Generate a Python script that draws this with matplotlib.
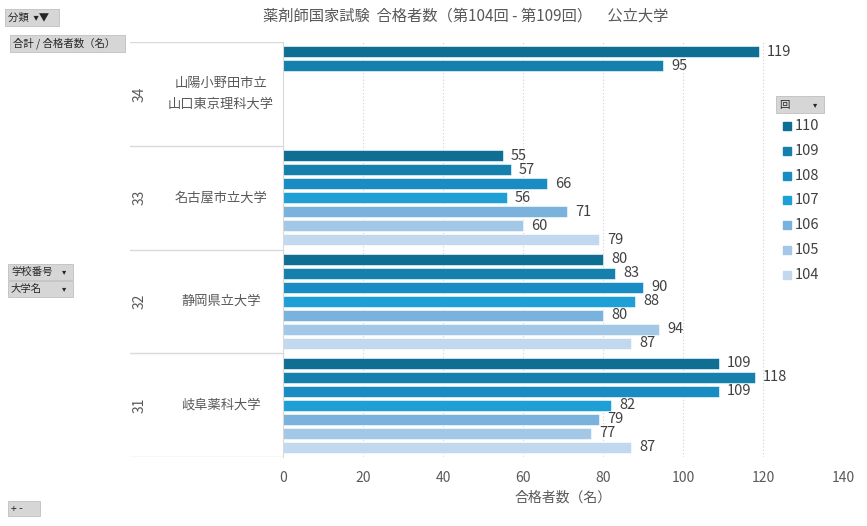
import numpy as np
import matplotlib.pyplot as plt
from matplotlib.patches import FancyBboxPatch

plt.rcParams['font.family'] = ['Noto Sans CJK JP', 'DejaVu Sans']

# data
school_no = ['34', '33', '32', '31']
school_name = ['山陽小野田市立\n山口東京理科大学', '名古屋市立大学', '静岡県立大学', '岐阜薬科大学']
rounds = ['110', '109', '108', '107', '106', '105', '104']
v34 = [119, 95, None, None, None, None, None]
v33 = [55, 57, 66, 56, 71, 60, 79]
v32 = [80, 83, 90, 88, 80, 94, 87]
v31 = [109, 118, 109, 82, 79, 77, 87]
values = [v34, v33, v32, v31]
colors = ['#0f6e94', '#1480ab', '#1a8cc4', '#1ea0d6', '#79b2dd', '#a3c7e6', '#c2d8ee']
xticks = [0, 20, 40, 60, 80, 100, 120, 140]

W, H = 867, 526
fig = plt.figure(figsize=(W / 100, H / 100), dpi=100)
fig.patch.set_facecolor('white')

def fx(px):
    return px / W

def fy(py):
    return 1 - py / H

tcol = '#595959'

# main plot area
top, bot = 42, 457
ax = fig.add_axes([fx(283), fy(bot), fx(843 - 283), (bot - top) / H])
ax.set_xlim(0, 140)
ax.set_ylim(4, 0)
ax.set_xticks(xticks)
ax.tick_params(axis='x', length=0, pad=10, labelsize=10, colors=tcol)
ax.set_yticks([])
for s in ax.spines.values():
    s.set_visible(False)
ax.spines['left'].set_visible(True)
ax.spines['left'].set_color('#d9d9d9')
ax.grid(axis='x', color='#d0d0d0', linestyle=(0, (1, 2)), linewidth=0.8)
ax.set_axisbelow(True)
ax.set_xlabel('合格者数（名）', fontsize=10, color=tcol, labelpad=4)

step = 14 / 104
bh = 11 / 104
for g, vals in enumerate(values):
    for j, v in enumerate(vals):
        if v is None:
            continue
        y = g + 0.5 + (j - 3) * step
        ax.barh(y, v, height=bh, color=colors[j], edgecolor='#ffffff', linewidth=0.4)
        ax.text(v + 2, y, str(v), va='center', ha='left', fontsize=10.5, color='#404040')

# category panel on the left
cax = fig.add_axes([fx(130), fy(bot), fx(283 - 130), (bot - top) / H])
cax.set_xlim(0, 1)
cax.set_ylim(4, 0)
cax.axis('off')
for b in range(5):
    cax.plot([0, 1], [b, b], color='#d9d9d9', linewidth=1)
for g in range(4):
    cax.text(10 / 153, g + 0.5, school_no[g], rotation=90, ha='center', va='center',
             fontsize=10, color=tcol)
    cax.text(91 / 153, g + 0.5, school_name[g], ha='center', va='center',
             fontsize=9.5, color=tcol, linespacing=1.85)

# title
fig.text(fx(466), fy(16), '薬剤師国家試験  合格者数（第104回 - 第109回）　公立大学',
         ha='center', va='center', fontsize=11, color=tcol)

# legend
for j, r in enumerate(rounds):
    yy = 126 + j * 24.8
    fig.patches.append(plt.Rectangle((fx(783), fy(yy + 4)), fx(8), 8 / H,
                                     transform=fig.transFigure, color=colors[j]))
    fig.text(fx(795), fy(yy), r, ha='left', va='center', fontsize=10.5, color='#404040')

# pivot field buttons
def button(x0, y0, x1, y1, label, arrow=False, size=7.5):
    p = FancyBboxPatch((fx(x0), fy(y1)), fx(x1 - x0), (y1 - y0) / H,
                       boxstyle='square,pad=0', transform=fig.transFigure,
                       facecolor='#d6d6d6', edgecolor='#c0c0c0', linewidth=0.6)
    fig.patches.append(p)
    fig.text(fx(x0 + 3), fy((y0 + y1) / 2), label, ha='left', va='center',
             fontsize=size, color='#262626')
    if arrow:
        fig.text(fx(x1 - 9), fy((y0 + y1) / 2), '▾', ha='center', va='center',
                 fontsize=6, color='#262626', family='DejaVu Sans')

button(5, 9, 59, 26, '分類  ▾▼')
button(10, 35, 125, 52, '合計 / 合格者数（名）')
button(8, 264, 73, 280, '学校番号', arrow=True)
button(8, 281, 73, 297, '大学名', arrow=True)
button(776, 96, 824, 113, '回', arrow=True)
button(8, 501, 40, 516, '+ -')

fig.savefig('out.png', dpi=100)
